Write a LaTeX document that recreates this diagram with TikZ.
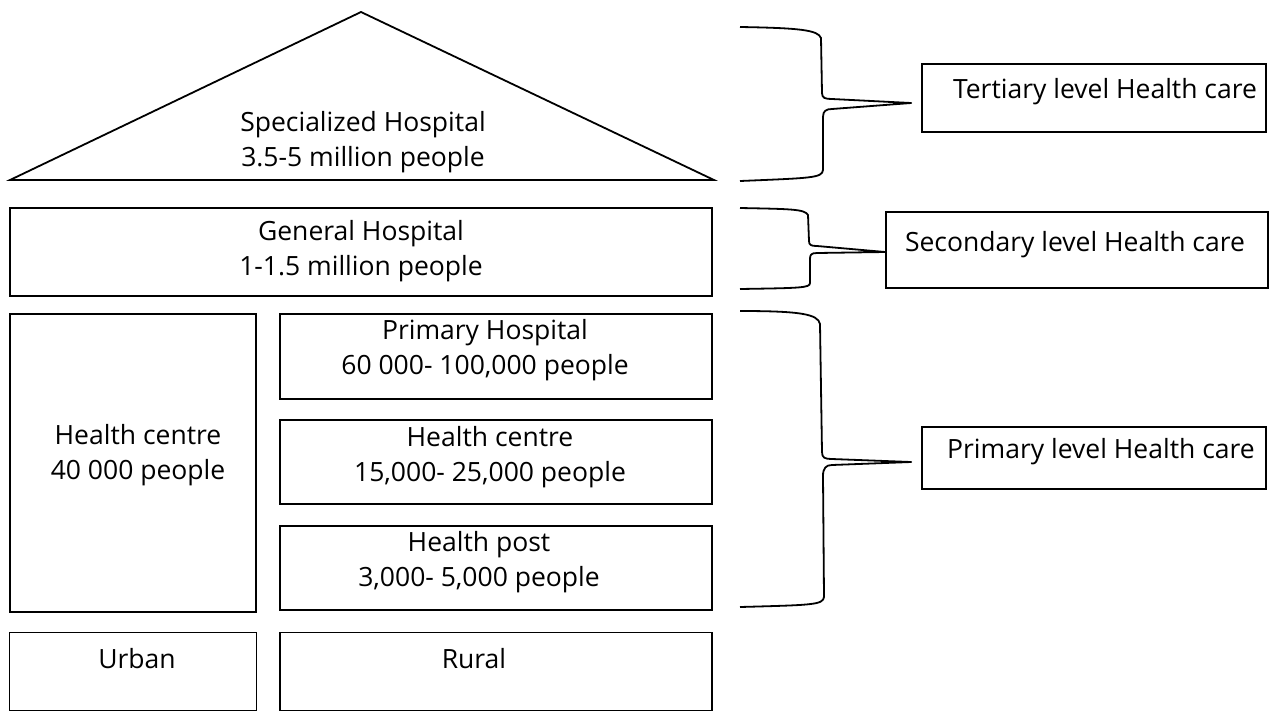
\documentclass[tikz,border=0pt]{standalone}
\usepackage{fontspec}
\setmainfont{Open Sans}
\begin{document}
\begin{tikzpicture}[x=1pt,y=-1pt,
  line width=1.8pt,
  box/.style={draw=black, line width=1.8pt, inner sep=0pt},
  lbl/.style={font=\fontsize{26.5}{35}\selectfont, align=center, inner sep=0pt, text=black},
  brace/.style={draw=black, line width=1.8pt, line join=round}]
\useasboundingbox (0,0) rectangle (1272,713);
% triangle
\coordinate (apex) at (361,12);
\coordinate (bl) at (10,180);
\coordinate (br) at (714,180);
\draw[line join=miter] (bl) -- (apex) -- (br) -- cycle;
\node[lbl] (spec) at (363,142) {Specialized Hospital\\3.5-5 million people};
% boxes
\node[box, minimum width=702, minimum height=88] (gen) at (361,252) {};
\node[lbl] (gent) at (361,251) {General Hospital\\1-1.5 million people};
\node[box, minimum width=246, minimum height=298] (hcl) at (133,463) {};
\node[lbl] (hclt) at (138,455) {Health centre\\40 000 people};
\node[box, minimum width=432, minimum height=85] (ph) at (496,356.5) {};
\node[lbl] (pht) at (485,350) {Primary Hospital\\60 000- 100,000 people};
\node[box, minimum width=432, minimum height=84] (hc) at (496,462) {};
\node[lbl] (hct) at (490,457) {Health centre\\15,000- 25,000 people};
\node[box, minimum width=432, minimum height=84] (hp) at (496,568) {};
\node[lbl] (hpt) at (479,562) {Health post\\3,000- 5,000 people};
\node[box, minimum width=247, minimum height=78] (urb) at (133,671.5) {};
\node[lbl] (urbt) at (137,659) {Urban};
\node[box, minimum width=432, minimum height=78] (rur) at (496,671.5) {};
\node[lbl] (rurt) at (474,659) {Rural};
% right boxes
\node[box, minimum width=344, minimum height=68] (ter) at (1094,98) {};
\node[lbl] (tert) at (1105,92) {Tertiary level Health care};
\node[box, minimum width=382, minimum height=76] (sec) at (1077,250) {};
\node[lbl] (sect) at (1075,245) {Secondary level Health care};
\node[box, minimum width=344, minimum height=62] (pri) at (1094,458) {};
\node[lbl] (prit) at (1101,452) {Primary level Health care};
% braces
\coordinate (t1) at (740,27);
\coordinate (t2) at (740,181);
\coordinate (ttip) at ([xshift=-10pt,yshift=-5pt]ter.west);
\draw[brace] (t1) .. controls (800,28) and (818,30) .. (821,38)
  -- (822,93) .. controls (822,98) and (825,99) .. (832,99)
  -- (ttip) -- (832,109) .. controls (826,109) and (823,111) .. (823,117)
  -- (823,170) .. controls (822,178) and (812,178) .. (t2);
\coordinate (s1) at (740,208);
\coordinate (s2) at (740,289);
\coordinate (stip) at ([yshift=-2pt]sec.west);
\draw[brace] (s1) .. controls (790,209) and (805,209) .. (808,215)
  -- (809,241) .. controls (809,245) and (811,246) .. (817,246)
  -- (stip) -- (817,253) .. controls (811,253) and (810,255) .. (810,259)
  -- (810,283) .. controls (810,288) and (800,288) .. (s2);
\coordinate (p1) at (740,311);
\coordinate (p2) at (740,607);
\coordinate (ptip) at ([xshift=-10pt,yshift=-4pt]pri.west);
\draw[brace] (p1) .. controls (800,311) and (818,314) .. (820,324)
  -- (822,452) .. controls (822,458) and (825,459) .. (832,459)
  -- (ptip) -- (832,465) .. controls (826,465) and (823,468) .. (823,476)
  -- (824,597) .. controls (823,605) and (812,605) .. (p2);
\end{tikzpicture}
\end{document}
